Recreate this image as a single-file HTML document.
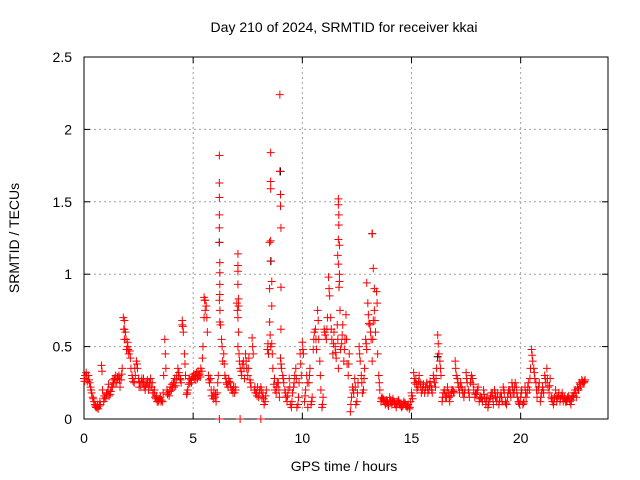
<!DOCTYPE html>
<html><head><meta charset="utf-8"><style>
body{margin:0;background:#fff;}
svg{display:block;font-family:"Liberation Sans",sans-serif;}
</style></head><body>
<svg id="chart" width="640" height="480" xmlns="http://www.w3.org/2000/svg">
<rect width="640" height="480" fill="#fff"/>
<text x="344" y="32" font-size="14" text-anchor="middle">Day 210 of 2024, SRMTID for receiver kkai</text>
<text x="344" y="471" font-size="14" text-anchor="middle">GPS time / hours</text>
<text transform="translate(19,238) rotate(-90)" font-size="14" text-anchor="middle">SRMTID / TECUs</text>
<g id="grid"></g>
<g id="axes"></g>
<g id="marks"></g>
</svg>
<script>
const xTicks=[0,5,10,15,20];
const yTicks=[0,0.5,1,1.5,2,2.5];
const yTickLabels=["0","0.5","1","1.5","2","2.5"];
const baseStart=0, baseStep=0.1;
const redBase=[0.28,0.32,0.30,0.22,0.15,0.10,0.08,0.09,0.37,0.12,
0.15,0.20,0.17,0.22,0.28,0.25,0.30,0.27,0.70,0.60,
0.50,0.47,0.30,0.25,0.40,0.28,0.22,0.25,0.20,0.27,
0.25,0.22,0.18,0.14,0.12,0.15,0.12,0.55,0.20,0.16,
0.20,0.25,0.23,0.35,0.28,0.68,0.45,0.17,0.24,0.27,
0.29,0.30,0.28,0.31,0.33,0.84,0.78,0.30,0.28,0.16,
0.15,0.18,0.82,0.55,0.45,0.28,0.22,0.25,0.20,0.18,
0.80,0.45,0.33,0.40,0.45,0.30,0.27,0.56,0.20,0.18,
0.15,0.22,0.18,0.12,0.48,0.67,0.52,0.24,0.18,0.25,
0.42,0.30,0.20,0.12,0.28,0.08,0.22,0.35,0.10,0.45,
0.53,0.12,0.30,0.25,0.10,0.48,0.62,0.75,0.40,0.08,
0.62,0.55,0.98,0.70,0.45,0.50,0.65,1.00,0.52,0.40,
0.72,0.30,0.05,0.22,0.28,0.12,0.50,0.30,0.20,0.55,
0.80,0.65,0.40,0.75,0.88,0.30,0.12,0.14,0.10,0.12,
0.15,0.10,0.12,0.08,0.13,0.10,0.09,0.11,0.08,0.07,
0.18,0.32,0.28,0.22,0.25,0.20,0.18,0.25,0.20,0.22,
0.30,0.22,0.58,0.40,0.12,0.20,0.15,0.18,0.16,0.20,
0.40,0.28,0.18,0.22,0.15,0.32,0.20,0.25,0.28,0.15,
0.18,0.12,0.15,0.20,0.10,0.08,0.14,0.18,0.20,0.12,
0.10,0.18,0.22,0.12,0.15,0.20,0.25,0.18,0.22,0.12,
0.15,0.10,0.22,0.18,0.20,0.48,0.35,0.25,0.20,0.12,
0.22,0.30,0.35,0.18,0.15,0.10,0.20,0.15,0.12,0.18,
0.15,0.12,0.16,0.10,0.15,0.20,0.22,0.25,0.27,0.25];
const midStart=0.05;
const redMid=[0.30,0.26,0.25,0.18,0.12,0.08,0.07,0.10,0.20,0.14,
0.18,0.16,0.22,0.25,0.30,0.28,0.22,0.35,0.55,0.48,
0.45,0.35,0.26,0.30,0.35,0.25,0.28,0.22,0.24,0.20,
0.28,0.18,0.15,0.12,0.14,0.13,0.30,0.35,0.18,0.22,
0.22,0.28,0.30,0.32,0.25,0.60,0.30,0.20,0.25,0.29,
0.28,0.32,0.30,0.35,0.50,0.75,0.60,0.25,0.16,0.20,
0.12,0.30,0.65,0.40,0.30,0.24,0.26,0.20,0.22,0.20,
0.70,0.35,0.38,0.28,0.35,0.42,0.22,0.45,0.18,0.22,
0.20,0.15,0.10,0.20,0.45,0.50,0.35,0.20,0.25,0.15,
0.35,0.25,0.15,0.20,0.10,0.18,0.30,0.08,0.25,0.30,
0.45,0.20,0.08,0.35,0.15,0.60,0.48,0.55,0.20,0.15,
0.58,0.70,0.85,0.55,0.60,0.42,0.35,0.48,0.65,0.55,
0.38,0.45,0.15,0.18,0.10,0.25,0.40,0.18,0.35,0.48,
0.66,0.55,0.68,0.60,0.45,0.20,0.15,0.12,0.13,0.09,
0.12,0.14,0.10,0.12,0.10,0.08,0.12,0.09,0.10,0.12,
0.14,0.25,0.20,0.30,0.18,0.24,0.22,0.18,0.26,0.18,
0.25,0.35,0.45,0.30,0.18,0.15,0.22,0.12,0.20,0.18,
0.30,0.22,0.25,0.18,0.20,0.25,0.15,0.30,0.20,0.18,
0.22,0.15,0.12,0.14,0.15,0.12,0.18,0.10,0.15,0.18,
0.15,0.12,0.18,0.10,0.20,0.15,0.18,0.25,0.15,0.10,
0.20,0.12,0.15,0.25,0.35,0.40,0.28,0.15,0.25,0.18,
0.18,0.25,0.22,0.28,0.12,0.15,0.12,0.18,0.16,0.12,
0.12,0.15,0.12,0.16,0.18,0.15,0.20,0.22,0.25,0.27];
const lowStart=0.025;
const redLow=[0.26,0.30,0.27,0.20,0.14,0.09,0.10,0.12,0.33,0.16,
0.17,0.24,0.19,0.27,0.25,0.29,0.27,0.31,0.62,0.55,
0.48,0.42,0.28,0.35,0.38,0.22,0.26,0.28,0.23,0.25,
0.22,0.25,0.20,0.16,0.13,0.12,0.18,0.45,0.17,0.19,
0.24,0.22,0.27,0.30,0.27,0.64,0.38,0.18,0.28,0.25,
0.31,0.27,0.33,0.29,0.42,0.82,0.70,0.27,0.20,0.14,
0.17,0.25,0.75,0.50,0.38,0.25,0.28,0.22,0.18,0.22,
0.75,0.40,0.30,0.35,0.40,0.35,0.25,0.50,0.22,0.16,
0.18,0.20,0.14,0.16,0.52,0.58,0.45,0.28,0.22,0.20,
0.38,0.28,0.18,0.16,0.22,0.12,0.25,0.28,0.15,0.38,
0.48,0.16,0.25,0.30,0.12,0.55,0.55,0.68,0.30,0.10,
0.60,0.62,0.90,0.62,0.52,0.46,0.55,0.75,0.58,0.48,
0.55,0.38,0.10,0.20,0.22,0.18,0.45,0.25,0.28,0.52,
0.72,0.60,0.55,0.68,0.80,0.25,0.14,0.13,0.11,0.10,
0.13,0.12,0.11,0.10,0.12,0.09,0.10,0.10,0.09,0.08,
0.16,0.28,0.24,0.26,0.22,0.22,0.20,0.22,0.23,0.20,
0.28,0.28,0.52,0.35,0.15,0.18,0.18,0.15,0.18,0.19,
0.35,0.25,0.22,0.20,0.18,0.28,0.18,0.28,0.24,0.17,
0.20,0.14,0.14,0.17,0.12,0.10,0.16,0.14,0.18,0.15,
0.12,0.15,0.20,0.11,0.18,0.18,0.22,0.22,0.18,0.11,
0.18,0.11,0.18,0.22,0.28,0.44,0.32,0.20,0.22,0.15,
0.20,0.28,0.28,0.23,0.14,0.12,0.16,0.16,0.14,0.15,
0.14,0.13,0.14,0.13,0.16,0.18,0.21,0.24,0.26,0.26];
const spikeT=[6.2,6.2,6.2,6.2,6.2,6.2,6.22,6.22,6.22,6.22,6.22,6.2,
7.05,7.05,7.05,7.05,7.08,7.08,7.08,7.05,7.15,8.1,
8.5,8.5,8.55,8.55,8.55,8.55,8.57,8.6,8.6,
8.97,8.97,9.0,9.0,9.02,9.02,9.02,
11.65,11.65,11.67,11.67,11.65,11.7,11.62,11.65,11.7,11.68,
13.2,13.25,13.3,12.95,5.55,5.5,4.5,1.85,1.85,2.0];
const spikeV=[1.82,1.63,1.53,1.41,1.32,1.22,1.08,1.01,0.93,0.86,0.67,0,
1.14,1.06,1.02,0.93,0.83,0.78,0.6,0.5,0,0,
0.9,1.22,1.84,1.64,1.59,1.23,1.09,0.95,0.78,
2.24,1.71,1.55,1.47,1.32,0.91,0.62,
1.52,1.48,1.41,1.34,1.24,1.2,1.13,1.07,0.95,0.91,
1.28,1.04,0.9,0.94,0.82,0.7,0.65,0.68,0.62,0.53];
const blackT=[6.2,8.55,9.0,13.2,16.2];
const blackV=[1.22,1.09,1.71,1.28,0.43];

const L=84,R=608,T=57,B=419,XMAX=24,YMAX=2.5;
const xs=t=>L+(R-L)*t/XMAX;
const ys=v=>B-(B-T)*v/YMAX;
const NS="http://www.w3.org/2000/svg";
function mk(tag,attrs,parent){const e=document.createElementNS(NS,tag);for(const k in attrs)e.setAttribute(k,attrs[k]);parent.appendChild(e);return e;}
const grid=document.getElementById('grid'),axes=document.getElementById('axes'),marks=document.getElementById('marks');
xTicks.forEach(t=>{
  const x=xs(t);
  if(t>0){const g=mk('line',{x1:x,x2:x,y1:T,y2:B,stroke:'#a0a0a0','stroke-dasharray':'2,3'},grid);
  
  }
  mk('line',{x1:x,x2:x,y1:B,y2:B-6,stroke:'#000'},axes);
  mk('line',{x1:x,x2:x,y1:T,y2:T+6,stroke:'#000'},axes);
  const tx=mk('text',{x:x,y:B+24,'font-size':14,'text-anchor':'middle'},axes);
  tx.textContent=String(t);
  
  
});
yTicks.forEach((v,i)=>{
  const y=ys(v);
  if(v>0&&v<YMAX){const g=mk('line',{x1:L,x2:R,y1:y,y2:y,stroke:'#a0a0a0','stroke-dasharray':'2,3'},grid);
  
  }
  mk('line',{x1:L,x2:L+6,y1:y,y2:y,stroke:'#000'},axes);
  mk('line',{x1:R,x2:R-6,y1:y,y2:y,stroke:'#000'},axes);
  const tx=mk('text',{x:L-12,y:y+5,'font-size':14,'text-anchor':'end'},axes);
  tx.textContent=yTickLabels[i];
  
  
});
const fr=mk('rect',{x:L,y:T,width:R-L,height:B-T,fill:'none',stroke:'#000'},axes);


function plus(t,v,color){
  const x=xs(t),y=ys(v);
  const p=mk('path',{d:`M${x-4},${y}H${x+4}M${x},${y-4}V${y+4}`,stroke:color,'stroke-width':1,fill:'none'},marks);
  
  
}
blackT.forEach((t,i)=>plus(t,blackV[i],'#000'));
redBase.forEach((v,i)=>{plus(baseStart+i*baseStep,v,'#f00');});
redLow.forEach((v,i)=>{plus(lowStart+i*baseStep,v,'#f00');});
redMid.forEach((v,i)=>{plus(midStart+i*baseStep,v,'#f00');});
spikeT.forEach((t,i)=>plus(t,spikeV[i],'#f00'));
</script>
</body></html>
